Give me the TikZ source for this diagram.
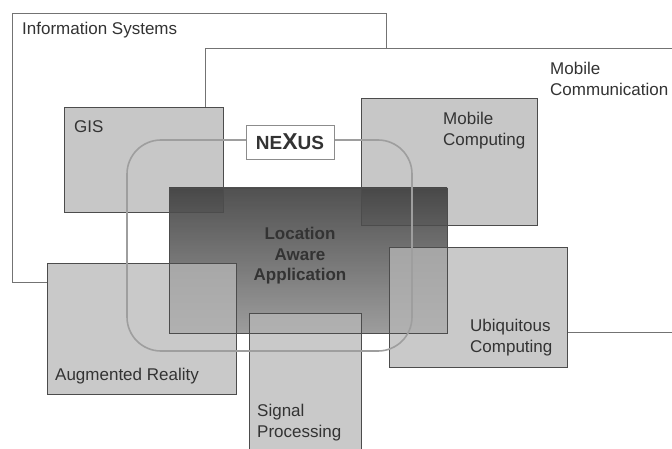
\documentclass[tikz,border=0pt]{standalone}
\usepackage{fontspec}
\setmainfont{Liberation Sans}
\usetikzlibrary{calc}
\definecolor{boxfill}{gray}{0.78}
\definecolor{frontfill}{gray}{0.72}
\definecolor{boxline}{gray}{0.30}
\definecolor{frameline}{gray}{0.45}
\definecolor{ringline}{gray}{0.62}
\definecolor{latop}{gray}{0.2}
\definecolor{labottom}{gray}{0.55}

\begin{document}
\begin{tikzpicture} [x=1pt,y=-1pt,font=\fontsize{17}{20.5}\selectfont,text=black!80]
\useasboundingbox (0,0) rectangle (672,449);
\clip (0,0) rectangle (672,449);
% the two wide areas
\draw[frameline, fill=white] (12,13) rectangle (386,282);
\draw[frameline, fill=white] (205,48) rectangle (690,332);
% white under all boxes
\foreach \xa/\ya/\xb/\yb in {64/107/223/212, 361/98/537/225, 169/188/447/333, 47/263/236/394, 389/247/567/367, 249/313/361/460}
 \fill[white] (\xa,\ya) rectangle (\xb,\yb);
% back boxes
\foreach \xa/\ya/\xb/\yb in {64/107/223/212, 361/98/537/225}
 \fill[boxfill] (\xa,\ya) rectangle (\xb,\yb);
\shade[top color=latop, bottom color=labottom, fill opacity=.85] (169,188) rectangle (447,333);
% front boxes
\foreach \xa/\ya/\xb/\yb in {47/263/236/394, 389/247/567/367, 249/313/361/460}
 \fill[frontfill, fill opacity=.75] (\xa,\ya) rectangle (\xb,\yb);
\foreach \xa/\ya/\xb/\yb in {64/107/223/212, 361/98/537/225, 169/188/447/333, 47/263/236/394, 389/247/567/367, 249/313/361/460}
 \draw[boxline, line width=.8pt] (\xa,\ya) rectangle (\xb,\yb);
% nexus ring
\draw[ringline, line width=1.6pt, rounded corners=34pt] (127,140) rectangle (412,351);
\node[draw=black!45, fill=white, minimum width=88pt, minimum height=34pt, inner sep=0] (nexus) at (290,142)
 {\fontsize{19}{19}\selectfont\bfseries NE{\fontsize{23}{23}\selectfont X}US};
% labels
\node[anchor=north west, inner sep=0] (infsys) at (22,22) {Information Systems};
\node[anchor=north west, inner sep=0, align=left] (mobcom) at (550,62) {Mobile\\Communication};
\node[anchor=north west, inner sep=0] (gis) at (74,120) {GIS};
\node[anchor=north west, inner sep=0, align=left] (mobcomp) at (443,112) {Mobile\\Computing};
\node[anchor=north, inner sep=0, align=center, font=\fontsize{17}{20.5}\selectfont\bfseries] (locaware) at (300,227) {Location\\Aware\\Application};
\node[anchor=north west, inner sep=0, align=left] (ubicomp) at (470,319) {Ubiquitous\\Computing};
\node[anchor=north west, inner sep=0] (augreal) at (55,368) {Augmented Reality};
\node[anchor=north west, inner sep=0, align=left] (sigproc) at (257,404) {Signal\\Processing};
\end{tikzpicture}
\end{document}
